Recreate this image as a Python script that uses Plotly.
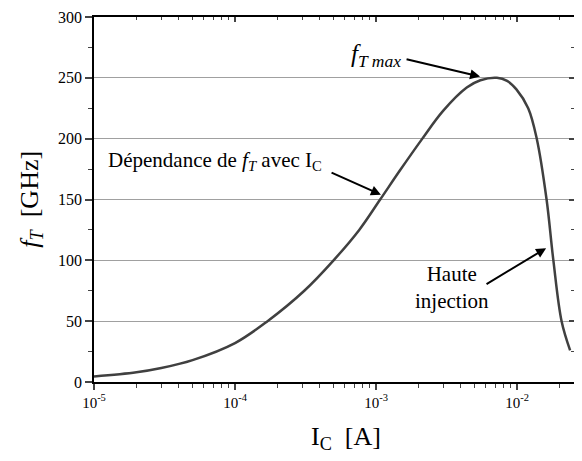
import plotly.graph_objects as go

# collector current (A) and transit frequency (GHz)
ic = [1e-5, 2e-5, 3e-5, 5e-5, 1e-4, 1.7e-4, 3.1e-4, 5e-4, 7.6e-4, 1.07e-3,
      1.48e-3, 2.1e-3, 3e-3, 4.4e-3, 5.5e-3, 7.2e-3, 8.5e-3, 9.9e-3, 1.2e-2,
      1.38e-2, 1.62e-2, 1.81e-2, 2.07e-2, 2.38e-2]
ft = [4.5, 8, 11.5, 18, 32, 50, 75, 100, 125, 150,
      174, 199, 223, 242, 248, 250, 247.5, 240.5, 225,
      200, 150, 100, 50, 26]

x_major = [1e-5, 1e-4, 1e-3, 1e-2]
x_labels = ["10<sup>-5</sup>", "10<sup>-4</sup>", "10<sup>-3</sup>", "10<sup>-2</sup>"]
x_minor = [m * d for d in [1e-5, 1e-4, 1e-3, 1e-2] for m in range(2, 10)]

SERIF = "Liberation Serif"
xr = [-5, -1.596]

fig = go.Figure()
fig.add_trace(go.Scatter(x=ic, y=ft, mode="lines",
                         line=dict(color="#404040", width=2.5, shape="spline", smoothing=1),
                         hoverinfo="skip", showlegend=False))

# page body adds an 8px margin, so the figure is kept inside the window
fig.update_layout(
    width=566, height=445,
    margin=dict(l=86, r=0, t=9, b=71),
    paper_bgcolor="white", plot_bgcolor="white",
    font=dict(family=SERIF, color="black", size=16),
    xaxis=dict(type="log", range=xr, showline=True, linecolor="black", linewidth=1.5,
               showgrid=False, zeroline=False, ticks="outside", ticklen=6, tickwidth=1.5,
               tickvals=x_major, ticktext=x_labels, tickfont=dict(family=SERIF, size=15),
               automargin=False,
               minor=dict(tickvals=x_minor, ticks="outside", ticklen=4, tickwidth=1, showgrid=False)),
    yaxis=dict(range=[0, 300], showline=True, linecolor="black", linewidth=1.5,
               showgrid=True, gridcolor="#a0a0a0", gridwidth=1, zeroline=False,
               ticks="outside", ticklen=7, tickwidth=1.5, dtick=50,
               tickfont=dict(family=SERIF, size=16), automargin=False,
               minor=dict(dtick=25, ticks="outside", ticklen=4, tickwidth=1, showgrid=False)),
    xaxis2=dict(type="log", range=xr, overlaying="x", side="top", showline=True, linecolor="black",
                linewidth=1.5, showgrid=False, zeroline=False, ticks="inside", ticklen=5, tickwidth=1.5,
                tickvals=x_major, showticklabels=False, automargin=False,
                minor=dict(tickvals=x_minor, ticks="inside", ticklen=3, tickwidth=1, showgrid=False)),
    yaxis2=dict(range=[0, 300], overlaying="y", side="right", showline=True, linecolor="black",
                linewidth=1.5, showgrid=False, zeroline=False, ticks="inside", ticklen=5, tickwidth=1.5,
                dtick=50, showticklabels=False, automargin=False,
                minor=dict(dtick=25, ticks="inside", ticklen=3, tickwidth=1, showgrid=False)),
)

# invisible copy so the mirrored axes get drawn
fig.add_trace(go.Scatter(x=ic, y=ft, xaxis="x2", yaxis="y2", mode="lines", line=dict(width=0),
                         opacity=0, hoverinfo="skip", showlegend=False))

# axis titles (positions in paper units of the 480x365 plot area)
fig.add_annotation(xref="paper", yref="paper", x=0.525, y=-0.153, showarrow=False,
                   text="I<sub>C</sub>&nbsp;&nbsp;[A]", font=dict(family=SERIF, size=26),
                   xanchor="center", yanchor="middle")
fig.add_annotation(xref="paper", yref="paper", x=-0.133, y=0.5, showarrow=False, textangle=-90,
                   text="<i>f</i><sub><i>T</i></sub>&nbsp;&nbsp;[GHz]", font=dict(family=SERIF, size=26),
                   xanchor="center", yanchor="middle")

arrow = dict(showarrow=True, arrowhead=2, arrowsize=1, arrowwidth=2, arrowcolor="black",
             axref="x", ayref="y", text="")
fig.add_annotation(x=-2.262, y=251, ax=-2.794, ay=265.5, **arrow)
fig.add_annotation(x=-2.965, y=154, ax=-3.326, ay=172.6, **arrow)
fig.add_annotation(x=-1.794, y=110, ax=-2.227, ay=79.7, **arrow)

fig.add_annotation(x=-3.0, y=268.5, text="<i>f</i><sub><i>T max</i></sub>", showarrow=False,
                   font=dict(family=SERIF, size=25), xanchor="center", yanchor="middle")
fig.add_annotation(x=-4.915, y=182, text="Dépendance de <i>f</i><sub><i>T</i></sub> avec I<sub>C</sub>",
                   showarrow=False, font=dict(family=SERIF, size=21), xanchor="left", yanchor="middle")
fig.add_annotation(x=-2.461, y=78, text="Haute<br>injection", showarrow=False,
                   font=dict(family=SERIF, size=21), xanchor="center", yanchor="middle", align="center")

fig.write_html("out.html")
